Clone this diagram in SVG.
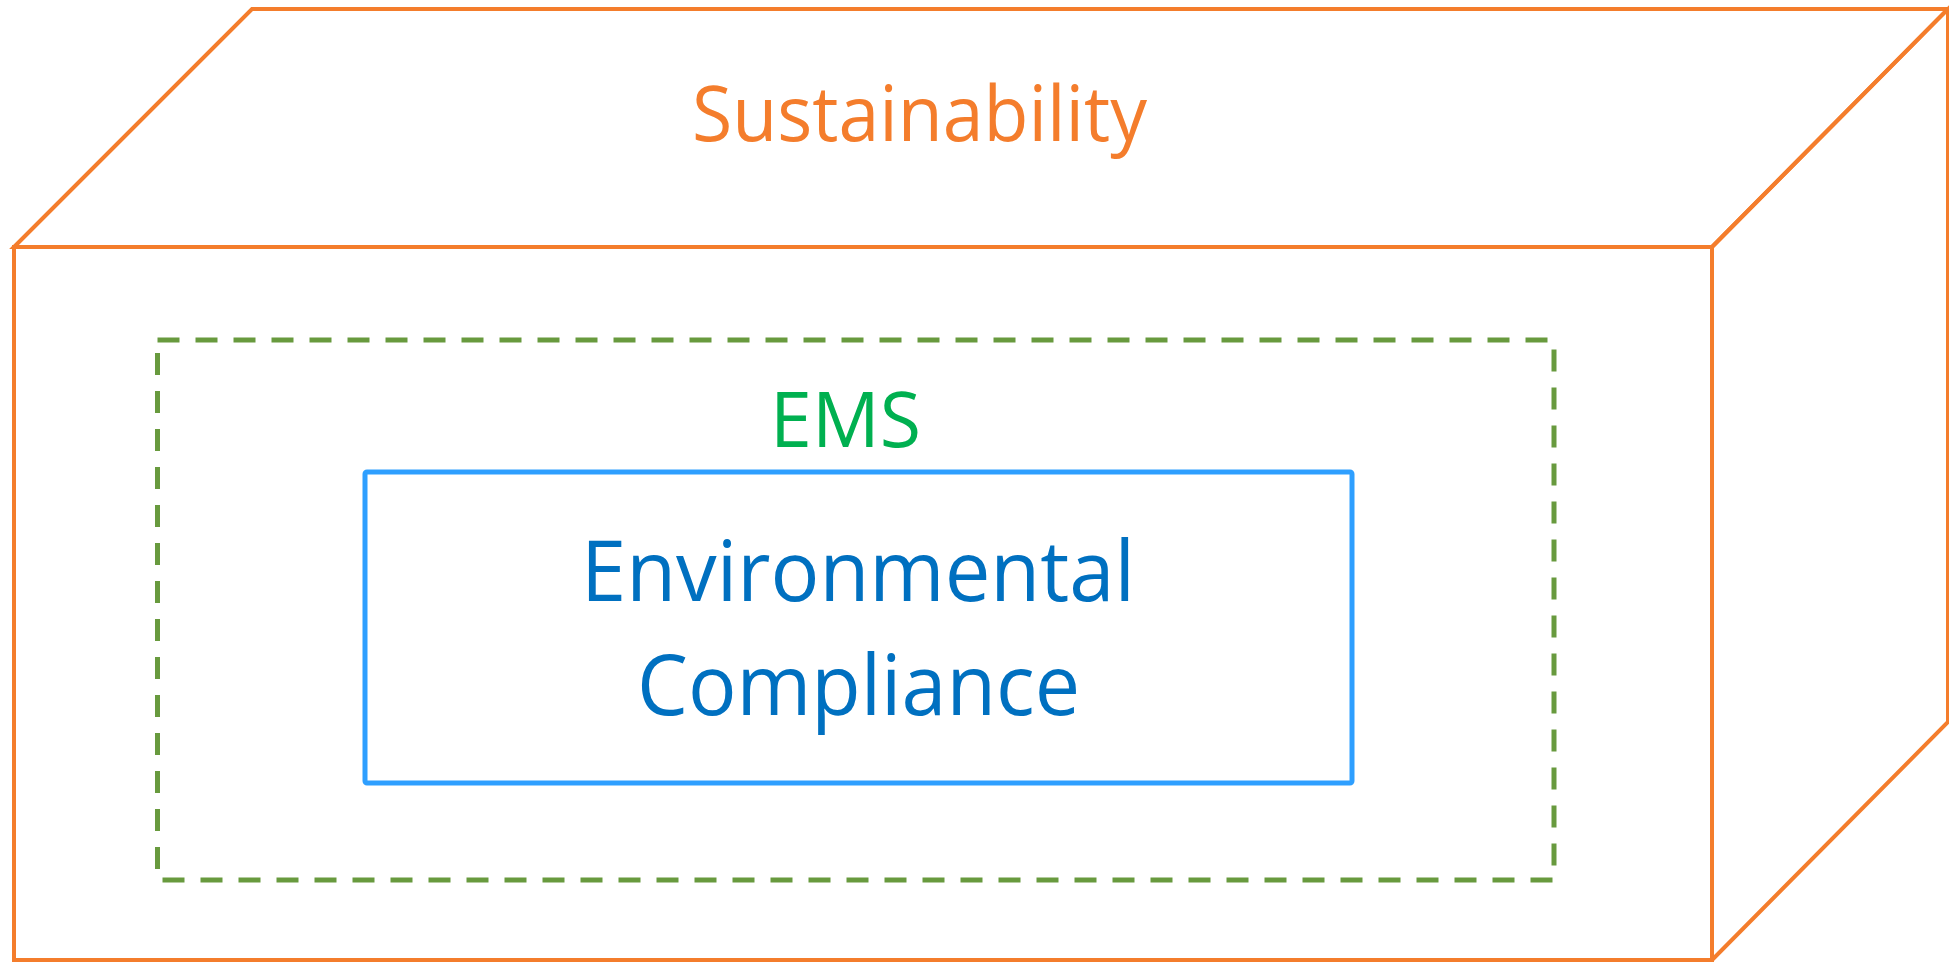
<svg xmlns="http://www.w3.org/2000/svg" width="1949" height="962" viewBox="0 0 1949 962">
  <style>
    .box { fill: none; stroke: #F47D2C; stroke-width: 4; stroke-linejoin: miter; }
    .ems { fill: none; stroke: #689A3E; stroke-width: 5; stroke-dasharray: 22 16; }
    .core { fill: none; stroke: #2E9FFF; stroke-width: 5; }
    .lbl { font-family: "Open Sans", "Noto Sans", "Liberation Sans", sans-serif; }
  </style>
  <rect width="1949" height="962" fill="#FFFFFF"/>
  <g id="sustainability">
    <path class="box" d="M14,247 L252,9 L1948,9 L1712,247 Z"/>
    <path class="box" d="M1712,247 L1948,9 L1948,722 L1712,960"/>
    <rect class="box" x="14" y="247" width="1698" height="713"/>
    <text class="lbl" x="692" y="141" font-size="76" fill="#F47D2C" textLength="455" lengthAdjust="spacingAndGlyphs">Sustainability</text>
  </g>
  <g id="ems">
    <rect class="ems" x="157.5" y="340" width="1396.5" height="540"/>
    <text class="lbl" x="770" y="447" font-size="76" fill="#00B050" textLength="151" lengthAdjust="spacingAndGlyphs">EMS</text>
  </g>
  <g id="environmental-compliance">
    <rect class="core" x="365" y="472" width="987" height="311" rx="2"/>
    <text class="lbl" x="581" y="601" font-size="84" fill="#0070C0" textLength="554" lengthAdjust="spacingAndGlyphs">Environmental</text>
    <text class="lbl" x="637" y="715" font-size="84" fill="#0070C0" textLength="443" lengthAdjust="spacingAndGlyphs">Compliance</text>
  </g>
  <g id="connectors"/>
</svg>
